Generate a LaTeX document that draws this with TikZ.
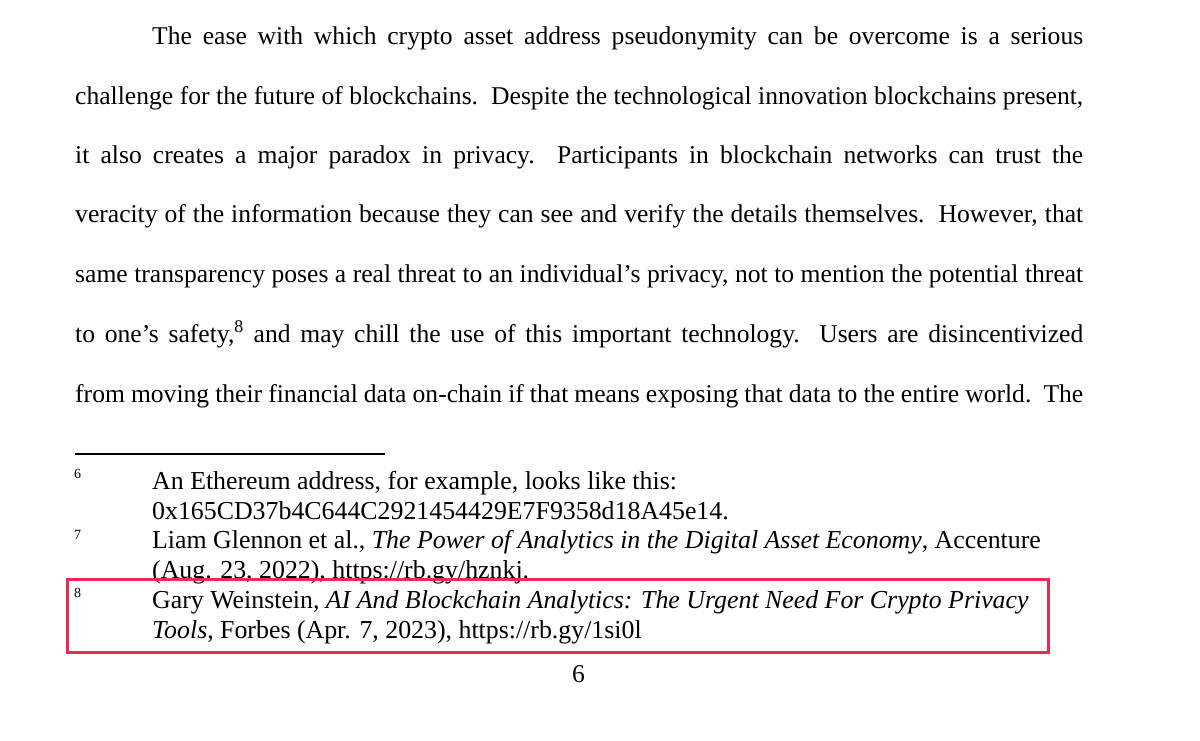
\documentclass[tikz,border=0pt]{standalone}
\usepackage{fontspec}
\setmainfont{Liberation Serif}
\begin{document}
\begin{tikzpicture}[x=1pt,y=1pt,
  body/.style={anchor=base west,inner sep=0pt,font=\fontsize{25.6}{30}\selectfont},
  fn/.style={anchor=base west,inner sep=0pt,font=\fontsize{25.85}{30}\selectfont},
  fnum/.style={anchor=base west,inner sep=0pt,font=\fontsize{14}{16}\selectfont}]
\useasboundingbox (0,0) rectangle (1200,-740);
\fill[white] (0,0) rectangle (1200,-740);
% body lines
\node[body] (l1) at (152,-44) {\makebox[931pt][s]{The ease with which crypto asset address pseudonymity can be overcome is a serious}};
\node[body] (l2) at (75,-104) {\makebox[1008pt][s]{challenge for the future of blockchains.\ \ Despite the technological innovation blockchains present,}};
\node[body] (l3) at (75,-163) {\makebox[1008pt][s]{it also creates a major paradox in privacy.\ \ Participants in blockchain networks can trust the}};
\node[body] (l4) at (75,-222) {\makebox[1008pt][s]{veracity of the information because they can see and verify the details themselves.\ \ However, that}};
\node[body] (l5) at (75,-282) {\makebox[1008pt][s]{same transparency poses a real threat to an individual's privacy, not to mention the potential threat}};
\node[body] (l6) at (75,-342) {\makebox[1008pt][s]{to one's safety,\textsuperscript{8} and may chill the use of this important technology.\ \ Users are disincentivized}};
\node[body] (l7) at (75,-402) {\makebox[1008pt][s]{from moving their financial data on-chain if that means exposing that data to the entire world.\ \ The}};
% separator
\coordinate (sepa) at (75,-454);
\coordinate (sepb) at (385,-454);
\draw[line width=1.2pt] (sepa) -- (sepb);
% footnotes
\node[fnum] (n6) at (74,-478) {6};
\node[fn] (f6a) at (152,-489) {An Ethereum address, for example, looks like this:};
\node[fn] (f6b) at (152,-519) {0x165CD37b4C644C2921454429E7F9358d18A45e14.};
\node[fnum] (n7) at (74,-539) {7};
\node[fn] (f7a) at (152,-548) {Liam Glennon et al., \textit{The Power of Analytics in the Digital Asset Economy}, Accenture};
\node[fn] (f7b) at (152,-578) {(Aug. 23, 2022), https://rb.gy/hznkj.};
\node[fnum] (n8) at (74,-597) {8};
\node[fn] (f8a) at (152,-608) {Gary Weinstein, \textit{AI And Blockchain Analytics: The Urgent Need For Crypto Privacy}};
\node[fn] (f8b) at (152,-638) {\textit{Tools}, Forbes (Apr. 7, 2023), https://rb.gy/1si0l};
% highlight box
\definecolor{hlred}{RGB}{232,44,84}
\node[draw=hlred,line width=3pt,inner sep=0pt,minimum width=981pt,minimum height=73pt] (box) at (557.5,-615.5) {};
% page number
\node[body,anchor=base] (pg) at (578.5,-682) {6};
\end{tikzpicture}
\end{document}
